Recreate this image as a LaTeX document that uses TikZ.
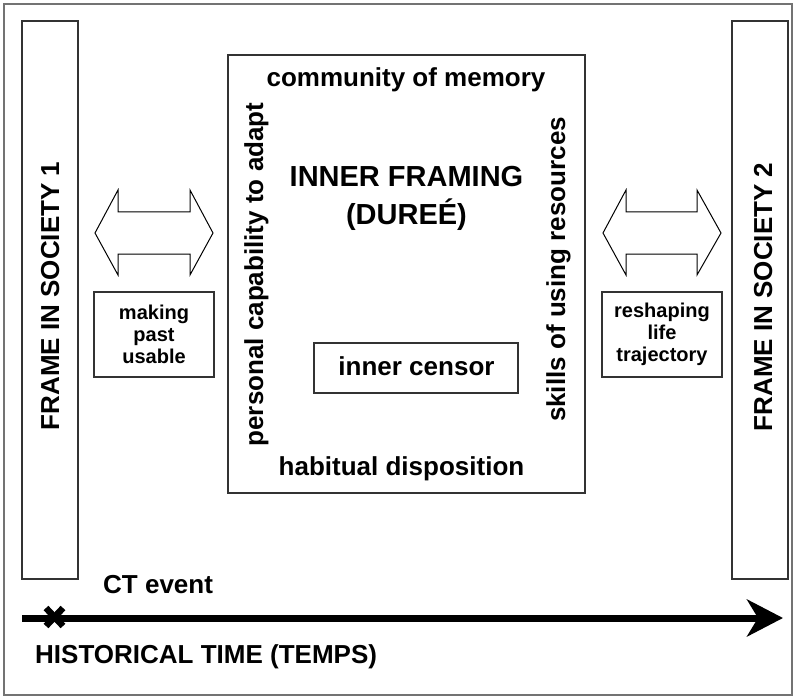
\documentclass[tikz,border=0pt]{standalone}
\usepackage{fontspec}
\setmainfont{Liberation Sans}
\usetikzlibrary{arrows.meta}
\begin{document}
\begin{tikzpicture}[x=1pt,y=-1pt,
  outerframe/.style={draw=black!55, line width=1.3pt},
  boxline/.style={draw=black!80, line width=1.3pt, inner sep=0pt},
  bigtext/.style={font=\fontsize{26}{30}\selectfont\bfseries, inner sep=0pt},
  titletext/.style={font=\fontsize{29}{38}\selectfont\bfseries, inner sep=0pt, align=center},
  smalltext/.style={font=\fontsize{20}{22}\selectfont\bfseries, align=center},
  twoway/.style={draw=black, line width=1pt, fill=white, line join=miter},
  timeline/.style={line width=7pt, -{Stealth[length=36pt,width=37pt,inset=11pt]}},
  eventmark/.style={line width=6.5pt}]
\useasboundingbox (0,0) rectangle (796,698);
% outer border
\draw[outerframe] (4,4) rectangle (792,695);

% society frames
\node[boxline, minimum width=56pt, minimum height=558pt] (soc1) at (50,300) {};
\node[boxline, minimum width=56pt, minimum height=558pt] (soc2) at (760,300) {};
\node[bigtext, rotate=90, anchor=base] (soc1txt) at (59,296) {FRAME IN SOCIETY 1};
\node[bigtext, rotate=90, anchor=base] (soc2txt) at (772,297) {FRAME IN SOCIETY 2};

% inner framing box
\node[boxline, minimum width=357pt, minimum height=438pt] (inner) at (406.5,274) {};
\node[bigtext, anchor=base] (memory) at (406,87) {community of memory};
\node[bigtext, anchor=base] (habit) at (401.5,475) {habitual disposition};
\node[bigtext, rotate=90, anchor=base] (adapt) at (263,274.5) {personal capability to adapt};
\node[bigtext, rotate=90, anchor=base] (skills) at (565,269.5) {skills of using resources};
\node[titletext, anchor=base] (framing) at (406.5,225) {INNER FRAMING\\(DUREÉ)};
\node[boxline, minimum width=204pt, minimum height=50pt] (censorbox) at (416,368) {};
\node[bigtext, anchor=base] (censor) at (416.5,375) {inner censor};

% double arrows
\draw[twoway] (95,233) -- (118,190) -- (118,212) -- (190,212) -- (190,190) -- (213,233)
  -- (190,275) -- (190,254) -- (118,254) -- (118,275) -- cycle;
\draw[twoway] (603,233) -- (626,190) -- (626,212) -- (697,212) -- (697,190) -- (721,233)
  -- (697,275) -- (697,254) -- (626,254) -- (626,275) -- cycle;

% process boxes
\node[boxline, smalltext, minimum width=120pt, minimum height=85pt] (past) at (154,334.5) {making\\past\\usable};
\node[boxline, smalltext, minimum width=120pt, minimum height=85pt] (reshape) at (662,334.5) {reshaping\\life\\trajectory};

% historical time axis
\coordinate (tstart) at (22,618);
\coordinate (tend) at (783,618);
\draw[timeline] (tstart) -- (tend);
\coordinate (ct) at (54.5,617);
\draw[eventmark] ([shift={(-8.5,-9)}]ct) -- ([shift={(8.5,9)}]ct);
\draw[eventmark] ([shift={(-8.5,9)}]ct) -- ([shift={(8.5,-9)}]ct);
\node[bigtext, anchor=base west] (ctlabel) at (103,593) {CT event};
\node[bigtext, anchor=base west] (timelabel) at (35,663) {HISTORICAL TIME (TEMPS)};
\end{tikzpicture}
\end{document}
